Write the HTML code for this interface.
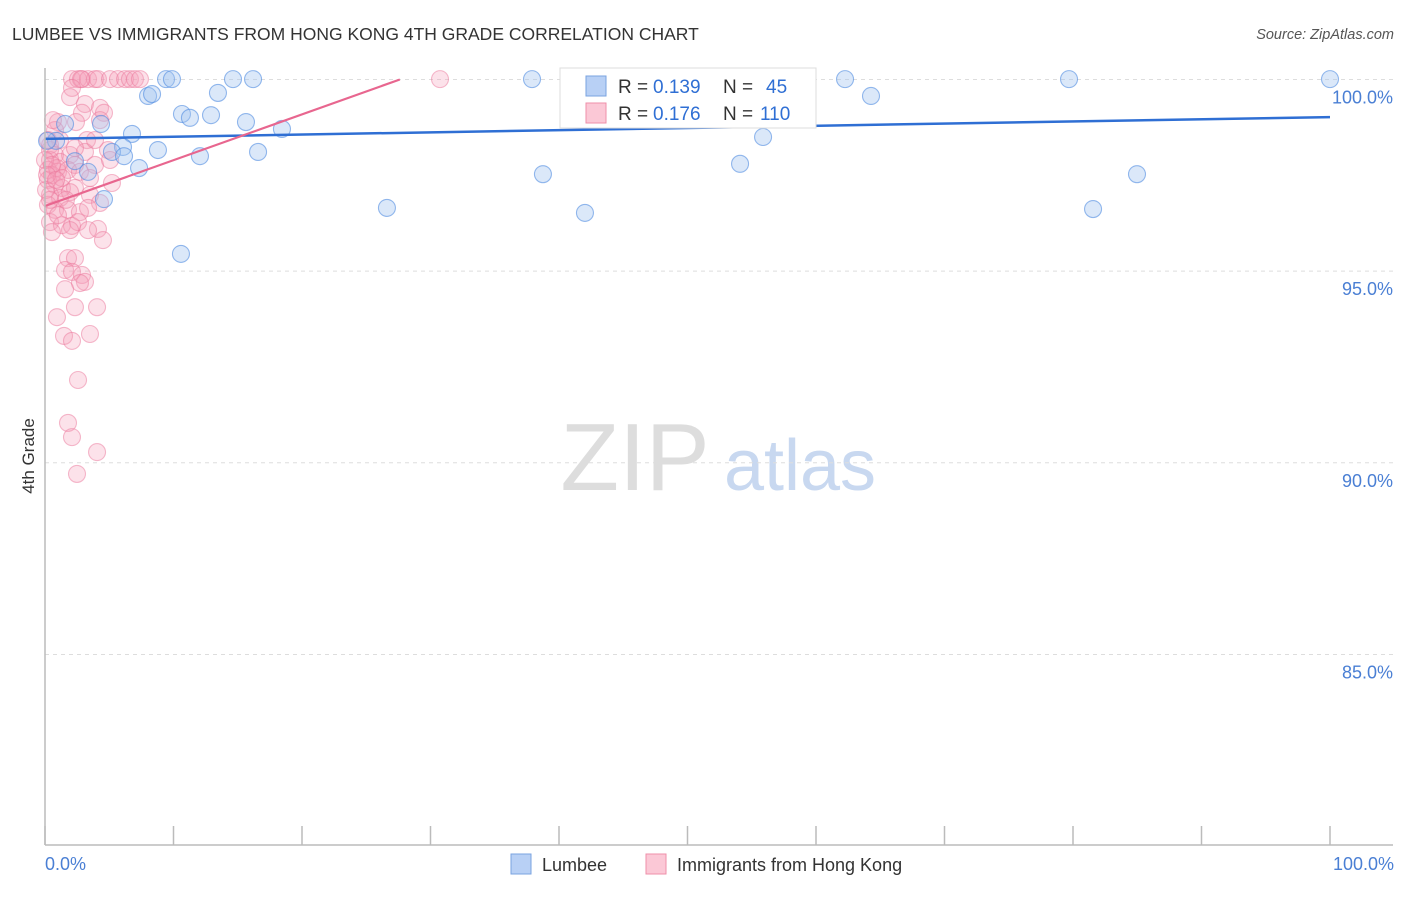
<!DOCTYPE html>
<html><head><meta charset="utf-8"><style>
body{margin:0;background:#fff;font-family:"Liberation Sans",sans-serif}
svg text{font-family:"Liberation Sans",sans-serif}
</style></head><body>
<svg id="chart" width="1406" height="892" xmlns="http://www.w3.org/2000/svg">
<text x="12" y="40" font-size="17.5" fill="#333">LUMBEE VS IMMIGRANTS FROM HONG KONG 4TH GRADE CORRELATION CHART</text>
<text x="1394" y="39" font-size="14.5" fill="#555" font-style="italic" text-anchor="end">Source: ZipAtlas.com</text>
<text transform="translate(34,456) rotate(-90)" font-size="17" fill="#333" text-anchor="middle">4th Grade</text>
<g><text x="635" y="490" font-size="96" fill="#ddd" font-family="Liberation Serif" text-anchor="middle">ZIP</text><text x="800" y="490" font-size="72" fill="#c8d8f0" text-anchor="middle">atlas</text></g>
<g id="grid"></g><g id="pts"></g><g id="trend"></g>
<line x1="45" y1="68" x2="45" y2="845" stroke="#bbb" stroke-width="1.5"/>
<line x1="45" y1="845" x2="1393" y2="845" stroke="#bbb" stroke-width="1.5"/>
<g id="xt"></g>
<text x="45" y="870" font-size="18" fill="#4a7fd4">0.0%</text>
<text x="1394" y="870" font-size="18" fill="#4a7fd4" text-anchor="end">100.0%</text>
<g>
<rect x="560" y="68" width="256" height="60" fill="#fff" stroke="#ddd"/>
<rect x="586" y="76" width="20" height="20" fill="#b8d0f5" stroke="#7aa3e0"/>
<text x="618" y="93" font-size="19" fill="#333">R =</text>
<text x="653" y="93" font-size="19" fill="#2f6fd4">0.139</text>
<text x="723" y="93" font-size="19" fill="#333">N =</text>
<text x="766" y="93" font-size="19" fill="#2f6fd4">45</text>
<rect x="586" y="103" width="20" height="20" fill="#fbc8d6" stroke="#ef8fa9"/>
<text x="618" y="120" font-size="19" fill="#333">R =</text>
<text x="653" y="120" font-size="19" fill="#2f6fd4">0.176</text>
<text x="723" y="120" font-size="19" fill="#333">N =</text>
<text x="760" y="120" font-size="19" fill="#2f6fd4">110</text>
</g>
<g>
<rect x="511" y="854" width="20" height="20" fill="#b8d0f5" stroke="#7aa3e0"/>
<text x="542" y="871" font-size="18" fill="#333">Lumbee</text>
<rect x="646" y="854" width="20" height="20" fill="#fbc8d6" stroke="#ef8fa9"/>
<text x="677" y="871" font-size="18" fill="#333">Immigrants from Hong Kong</text>
</g>
</svg>
<script>
const yTicks=[100,95,90,85];
const yTickLabels=["100.0%","95.0%","90.0%","85.0%"];
const xTicks=[0,10,20,30,40,50,60,70,80,90,100];
const bluePx=[[166,79],[172,79],[233,79],[253,79],[532,79],[740,79],[845,79],[1069,79],[1330,79],[148,96],[152,94],[218,93],[182,114],[190,118],[211,115],[246,122],[101,124],[65,124],[132,134],[282,129],[871,96],[763,137],[123,147],[112,152],[124,156],[158,150],[200,156],[258,152],[75,161],[139,168],[88,172],[104,199],[543,174],[740,164],[1137,174],[387,208],[585,213],[1093,209],[181,254],[56,141],[47,141]];
const pinkPx=[[72,79],[78,79],[82,79],[88,79],[95,79],[98,79],[110,79],[118,79],[125,79],[130,79],[135,79],[140,79],[440,79],[81,79],[72,88],[70,97],[85,104],[100,108],[104,113],[82,113],[76,122],[58,122],[55,130],[60,140],[87,140],[50,145],[55,155],[70,155],[85,152],[108,150],[50,160],[60,162],[75,165],[95,165],[110,160],[48,170],[58,172],[68,170],[80,172],[90,178],[112,183],[48,180],[55,185],[62,188],[75,188],[50,195],[60,198],[70,192],[90,195],[100,203],[48,205],[55,210],[68,210],[80,212],[88,208],[50,222],[62,225],[72,226],[78,222],[98,229],[52,232],[70,230],[103,240],[68,258],[75,258],[65,270],[72,272],[82,275],[85,282],[80,283],[65,289],[75,307],[97,307],[57,317],[64,336],[90,334],[72,341],[78,380],[68,423],[72,437],[97,452],[77,474],[50,150],[52,175],[57,168],[46,190],[62,178],[66,200],[95,140],[100,120],[75,148],[88,230],[58,215],[45,160],[48,140],[53,120],[52,165],[47,175],[56,180],[50,200]];
// data values (x %, y %) derived from reading the image
const blueX=bluePx.map(p=>+((p[0]-45)/12.85).toFixed(2));
const blueY=bluePx.map(p=>+(100-(p[1]-79.5)/38.33).toFixed(2));
const pinkX=pinkPx.map(p=>+((p[0]-45)/12.85).toFixed(2));
const pinkY=pinkPx.map(p=>+(100-(p[1]-79.5)/38.33).toFixed(2));
const blueTrend=[98.45,99.02];   // y at x=0, y at x=100
const pinkTrend=[96.70,108.65];
const NS="http://www.w3.org/2000/svg";
const sx=v=>45+v*12.85, sy=v=>79.5+(100-v)*38.33;
function mk(t,a,p){const e=document.createElementNS(NS,t);for(const k in a)e.setAttribute(k,a[k]);p.appendChild(e);return e;}
const grid=document.getElementById('grid');
yTicks.forEach((v,i)=>{
 const l=mk('line',{x1:45,x2:1393,y1:sy(v),y2:sy(v),stroke:'#ddd','stroke-dasharray':'4,4'},grid);
 
 
 const t=mk('text',{x:1393,y:sy(v)+24,'font-size':18,fill:'#4a7fd4','text-anchor':'end'},grid);
 t.textContent=yTickLabels[i];
 
 
});
const xt=document.getElementById('xt');
xTicks.forEach(v=>{const l=mk('line',{x1:sx(v),x2:sx(v),y1:826,y2:845,stroke:'#bbb','stroke-width':1.5},xt);
 
 });
const pts=document.getElementById('pts');
pinkX.forEach((x,i)=>{const c=mk('circle',{cx:sx(x),cy:sy(pinkY[i]),r:8.5,fill:'rgba(246,160,185,0.3)',stroke:'rgba(236,120,155,0.5)','stroke-width':1.1},pts);
 
 });
blueX.forEach((x,i)=>{const c=mk('circle',{cx:sx(x),cy:sy(blueY[i]),r:8.5,fill:'rgba(160,195,240,0.38)',stroke:'rgba(80,140,225,0.6)','stroke-width':1.1},pts);
 
 });
const tr=document.getElementById('trend');
const bl=mk('line',{x1:sx(0),y1:sy(blueTrend[0]),x2:sx(100),y2:sy(blueTrend[1]),stroke:'#2f6fd4','stroke-width':2.5},tr);


const xe=(100-pinkTrend[0])/((pinkTrend[1]-pinkTrend[0])/100);
const pl=mk('line',{x1:sx(0),y1:sy(pinkTrend[0]),x2:sx(xe),y2:sy(100),stroke:'#e8668f','stroke-width':2.2},tr);


</script>
</body></html>
